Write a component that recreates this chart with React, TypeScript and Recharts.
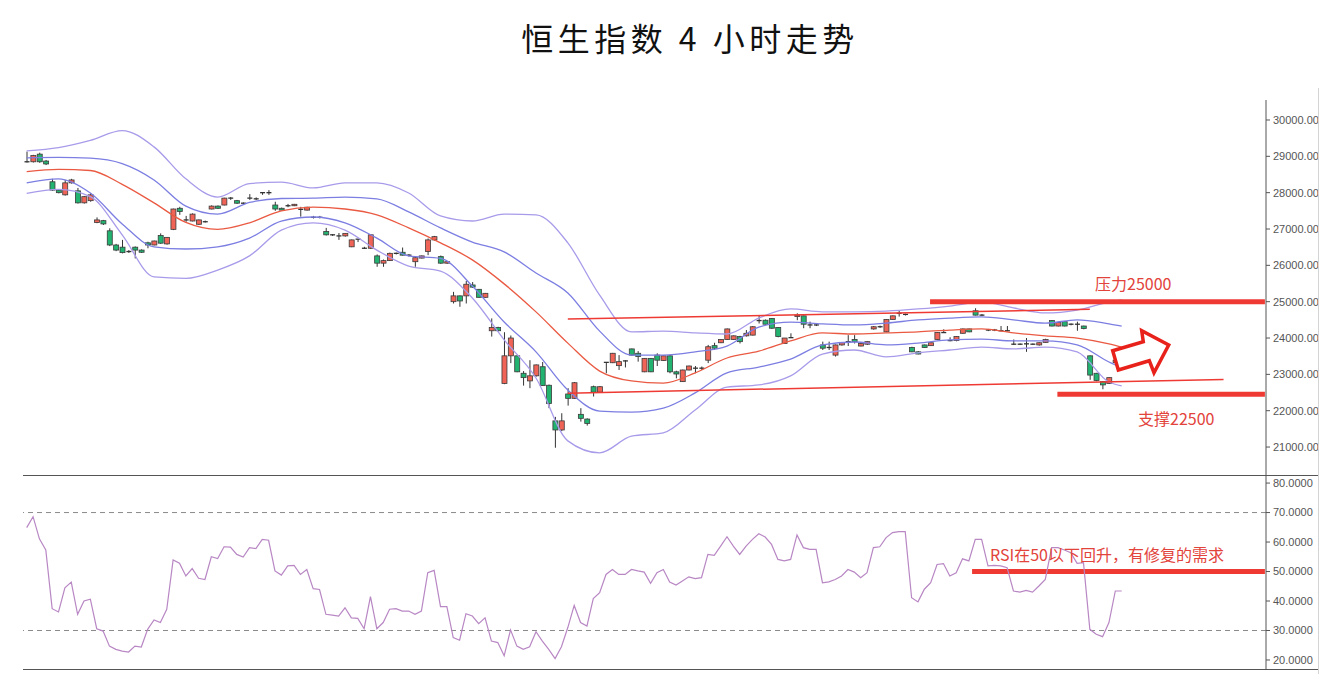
import { ComposedChart, Bar, Line, XAxis, YAxis, ReferenceLine } from "recharts";

// 4h candles, [open, high, low, close]
const candleOHLC: [number, number, number, number][] = [
  [28850, 29130, 28830, 28850], [28850, 29040, 28830, 29020], [29060, 29100, 28820, 28850], [28870, 28900, 28760, 28790],
  [28300, 28380, 28050, 28070], [28070, 28100, 27980, 28000], [27940, 28350, 27920, 28270], [28270, 28380, 28250, 28350],
  [28050, 28130, 27700, 27720], [27720, 27910, 27700, 27890], [27780, 27990, 27750, 27940], [27180, 27320, 27160, 27250],
  [27230, 27250, 27110, 27140], [26950, 27020, 26530, 26560], [26560, 26590, 26390, 26420], [26500, 26700, 26330, 26350],
  [26380, 26420, 26340, 26380], [26500, 26520, 26190, 26420], [26420, 26440, 26340, 26360], [26620, 26650, 26470, 26560],
  [26560, 26680, 26550, 26670], [26820, 26880, 26590, 26610], [26590, 26780, 26570, 26770], [26990, 27560, 26970, 27550],
  [27570, 27610, 27390, 27480], [27250, 27360, 27200, 27250], [27220, 27430, 27210, 27410], [27130, 27260, 27110, 27250],
  [27200, 27230, 27180, 27200], [27550, 27650, 27540, 27630], [27630, 27650, 27550, 27570], [27660, 27860, 27650, 27850],
  [27850, 27880, 27800, 27850], [27780, 27800, 27690, 27710], [27710, 27730, 27690, 27710], [27850, 27960, 27800, 27850],
  [27830, 27870, 27800, 27830], [28000, 28000, 27940, 28000], [28000, 28070, 27940, 28000], [27660, 27750, 27500, 27550],
  [27570, 27590, 27510, 27520], [27640, 27690, 27600, 27640], [27640, 27690, 27630, 27680], [27540, 27610, 27340, 27540],
  [27520, 27610, 27510, 27600], [27320, 27360, 27290, 27320], [27320, 27360, 27290, 27320], [26930, 27030, 26820, 26840],
  [26840, 26860, 26810, 26840], [26810, 26890, 26700, 26810], [26810, 26890, 26790, 26880], [26510, 26710, 26500, 26700],
  [26720, 26720, 26640, 26720], [26470, 26510, 26450, 26470], [26470, 26850, 26450, 26840], [26260, 26300, 25960, 26060],
  [26060, 26160, 25960, 26130], [26130, 26350, 26120, 26330], [26330, 26350, 26300, 26330], [26360, 26490, 26270, 26280],
  [26280, 26310, 26240, 26280], [26100, 26230, 25960, 26210], [26200, 26270, 26190, 26260], [26380, 26740, 26280, 26700],
  [26700, 26810, 26680, 26790], [26240, 26270, 26040, 26060], [26060, 26120, 26040, 26100], [25000, 25270, 24950, 25160],
  [25160, 25170, 24860, 25020], [25160, 25570, 24950, 25480], [25460, 25540, 25380, 25400], [25340, 25350, 25110, 25120],
  [25120, 25240, 25110, 25230], [24200, 24540, 24040, 24290], [24290, 24310, 24180, 24200], [22750, 24160, 22730, 23510],
  [23510, 24070, 23310, 24000], [23510, 23520, 23060, 23070], [23030, 23090, 22690, 22910], [22820, 23390, 22620, 22960],
  [22960, 23270, 22940, 23260], [23210, 23340, 22680, 22690], [22700, 22720, 22070, 22200], [21720, 21830, 20980, 21470],
  [21470, 21930, 21440, 21720], [22460, 22620, 22140, 22340], [22340, 22790, 22330, 22770], [21900, 22070, 21700, 21790],
  [21770, 21790, 21590, 21650], [22660, 22690, 22390, 22510], [22510, 22680, 22490, 22660], [23330, 23330, 23030, 23330],
  [23320, 23590, 23310, 23580], [23240, 23530, 23120, 23350], [23370, 23390, 23190, 23370], [23700, 23710, 23520, 23530],
  [23580, 23640, 23350, 23490], [23070, 23450, 23060, 23440], [23440, 23450, 23060, 23070], [23530, 23580, 23230, 23390],
  [23380, 23530, 23370, 23510], [23510, 23530, 23030, 23070], [23070, 23100, 22890, 23010], [22800, 23130, 22790, 23120],
  [23120, 23240, 23110, 23230], [23170, 23230, 23030, 23170], [23170, 23215, 23120, 23170], [23390, 23810, 23310, 23760],
  [23790, 23870, 23670, 23720], [23870, 23970, 23860, 23960], [23960, 24260, 23950, 24250], [23960, 24070, 23950, 24060],
  [24040, 24060, 23850, 23900], [24060, 24220, 24040, 24130], [24080, 24330, 24070, 24310], [24480, 24610, 24400, 24480],
  [24490, 24510, 24370, 24380], [24540, 24550, 24250, 24270], [24290, 24300, 24020, 24040], [23850, 24000, 23840, 24000],
  [24010, 24130, 24000, 24010], [24590, 24680, 24490, 24630], [24610, 24620, 24270, 24380], [24360, 24450, 24270, 24360],
  [24360, 24380, 24330, 24360], [23810, 23900, 23670, 23720], [23740, 23900, 23670, 23740], [23530, 23820, 23490, 23810],
  [23810, 23880, 23790, 23870], [23900, 24080, 23780, 23900], [23960, 24080, 23850, 23900], [23780, 23860, 23770, 23850],
  [23830, 23910, 23810, 23900], [24250, 24330, 24230, 24310], [24310, 24340, 24280, 24310], [24170, 24520, 24160, 24510],
  [24510, 24620, 24500, 24610], [24680, 24770, 24590, 24680], [24650, 24670, 24620, 24650], [23740, 23760, 23610, 23620],
  [23620, 23640, 23550, 23560], [23810, 23820, 23730, 23740], [23790, 23880, 23780, 23870], [23960, 24160, 23950, 24150],
  [24150, 24240, 24140, 24150], [23930, 24020, 23910, 23930], [23930, 24050, 23910, 24040], [24130, 24260, 24120, 24250],
  [24250, 24260, 24160, 24170], [24750, 24820, 24620, 24630], [24630, 24660, 24610, 24630], [24220, 24250, 24190, 24220],
  [24220, 24250, 24190, 24220], [24200, 24330, 24190, 24200], [24200, 24330, 24190, 24200], [23830, 23960, 23810, 23830],
  [23830, 23850, 23810, 23830], [23840, 24000, 23620, 23840], [23830, 23850, 23810, 23830], [23810, 23880, 23790, 23870],
  [23880, 23980, 23870, 23960], [24480, 24490, 24320, 24330], [24330, 24450, 24320, 24430], [24450, 24460, 24320, 24330],
  [24380, 24400, 24350, 24380], [24380, 24450, 24200, 24380], [24330, 24340, 24240, 24260], [23510, 23520, 22850, 22980],
  [23030, 23040, 22810, 22830], [22800, 22810, 22590, 22710], [22750, 22920, 22740, 22910], [23320, 23410, 23300, 23390],
  [23440, 23500, 23420, 23440],
];

// bollinger envelopes, read at these candle positions
const bandIndex = [0, 5, 10, 15, 20, 25, 30, 35, 40, 45, 50, 55, 60, 65, 70, 75, 80, 85, 90, 95, 100, 105, 110, 115, 120, 125, 130, 135, 140, 145, 150, 155, 160, 165, 170, 172];
const outerUpper = [29150, 29240, 29440, 29710, 29260, 28380, 27880, 28250, 28290, 28130, 28270, 28270, 27990, 27360, 27220, 27410, 27390, 26620, 25180, 24170, 24190, 24140, 24110, 24550, 24800, 24720, 24720, 24740, 24800, 24880, 24990, 24830, 24690, 24770, 24990, 25050];
const innerUpper = [28960, 28970, 28950, 28800, 28350, 27630, 27410, 27730, 27840, 27850, 27880, 27830, 27470, 27030, 26640, 26370, 25790, 25240, 24190, 23530, 23530, 23620, 23780, 24300, 24440, 24390, 24360, 24410, 24500, 24550, 24580, 24500, 24410, 24500, 24390, 24330];
const middle = [28580, 28640, 28610, 28230, 27720, 27180, 26990, 27170, 27500, 27600, 27550, 27390, 27030, 26620, 26150, 25490, 24720, 23860, 23090, 22820, 22760, 23040, 23450, 23640, 23920, 24140, 24110, 24140, 24170, 24220, 24250, 24140, 24060, 24000, 23840, 23750];
const innerLower = [28270, 28380, 27990, 27140, 26510, 26450, 26510, 26750, 27220, 27330, 27170, 26750, 26260, 26190, 25430, 24440, 23620, 22570, 21990, 21960, 22070, 22490, 23040, 23200, 23420, 23810, 23890, 23810, 23860, 23950, 23970, 23920, 23920, 23810, 23340, 23180];
const outerLower = [27980, 28090, 27890, 26840, 25680, 25640, 25870, 26260, 26970, 27170, 26970, 26420, 25980, 25840, 25100, 23950, 22900, 21170, 20840, 21300, 21390, 22020, 22650, 22710, 22960, 23560, 23670, 23480, 23590, 23670, 23750, 23700, 23750, 23620, 22790, 22680];

const rsiValues = [
  64.9, 68.6, 61.1, 57.3, 37.4, 36.3, 44.5, 46.4, 35.5, 40.0, 40.6, 30.6, 29.8, 24.7, 23.6, 23.0, 22.7, 24.7, 24.4, 30.4,
  33.6, 32.7, 37.2, 53.9, 52.8, 48.5, 51.0, 47.7, 47.3, 55.0, 54.4, 58.4, 58.3, 55.8, 54.9, 58.1, 57.8, 60.9, 60.6, 50.2,
  48.8, 51.9, 52.1, 49.0, 50.7, 44.2, 43.9, 35.5, 35.2, 34.9, 37.7, 34.3, 34.1, 30.6, 41.5, 30.6, 32.7, 37.2, 37.4, 36.6,
  36.6, 35.5, 36.6, 49.6, 50.4, 38.1, 38.1, 27.6, 26.7, 35.7, 34.9, 32.3, 34.3, 26.4, 25.9, 21.4, 30.2, 24.7, 23.6, 24.5,
  29.6, 26.4, 23.6, 20.5, 24.5, 31.0, 38.5, 32.7, 31.5, 40.8, 42.8,
  49.0, 50.7, 49.0, 49.0, 50.7, 50.2, 49.8, 46.0, 49.6, 50.7, 46.4, 45.4, 46.8, 48.2, 47.6, 47.9, 55.8, 55.5, 58.6, 61.8,
  58.6, 55.8, 58.6, 60.9, 62.8, 61.7, 59.2, 54.1, 53.6, 54.1, 62.4, 58.1, 57.5, 57.5, 46.2, 46.5, 47.3, 48.5, 50.7, 49.8,
  47.9, 49.6, 58.1, 58.4, 61.5, 63.2, 63.5, 63.5, 41.1, 39.7, 44.0, 46.2, 52.4, 52.7, 48.5, 49.6, 54.3, 53.6, 60.9, 60.9,
  51.9, 52.1, 51.9, 51.3, 43.4, 43.0, 43.6, 43.0, 45.1, 47.3, 58.1, 58.1, 57.3, 56.4, 52.8, 53.0, 30.4, 28.7, 27.9, 32.7,
  43.4, 43.4,
];

const priceTicks = [21000, 22000, 23000, 24000, 25000, 26000, 27000, 28000, 29000, 30000];
const rsiTicks = [20, 30, 40, 50, 60, 70, 80];

const resistance = 25000;
const support = 22450;
const upperTrend = [{ x: 85, y: 24520 }, { x: 167, y: 24790 }];
const lowerTrend = [{ x: 85, y: 22480 }, { x: 188, y: 22860 }];

const X_DOMAIN: [number, number] = [-0.58, 194.67];
const RED = "#ef6456";
const GREEN = "#22b371";
const LINE_RED = "#ee3a33";
const TEXT_RED = "#e2433b";

const candleData = candleOHLC.map(([o, h, l, c], i) => ({ i, o, h, l, c, range: [l, h] }));
const bandData = bandIndex.map((i, k) => ({
  i,
  ou: outerUpper[k],
  iu: innerUpper[k],
  mid: middle[k],
  il: innerLower[k],
  ol: outerLower[k],
}));
const rsiData = rsiValues.map((v, i) => ({ i, v }));

function Candle(props: any) {
  const { x, y, width, height, payload } = props;
  if (!payload) return null;
  const { o, h, l, c } = payload;
  const top = Math.min(y, y + height);
  const hh = Math.abs(height);
  const k = h > l ? hh / (h - l) : 0;
  const py = (v: number) => top + (h - v) * k;
  const cx = x + width / 2;
  const bodyTop = py(Math.min(h, Math.max(o, c)));
  const bodyBot = py(Math.max(l, Math.min(o, c)));
  const doji = o === c;
  return (
    <g>
      <line x1={cx} x2={cx} y1={top} y2={top + hh} stroke="#333" strokeWidth={1} />
      {doji ? (
        <line x1={x} x2={x + width} y1={bodyTop} y2={bodyTop} stroke="#333" strokeWidth={1.3} />
      ) : (
        <rect
          x={x}
          y={bodyTop}
          width={width}
          height={Math.max(1, bodyBot - bodyTop)}
          fill={c > o ? RED : GREEN}
          stroke="#3b3b3b"
          strokeWidth={0.8}
        />
      )}
    </g>
  );
}

const tickStyle = { fill: "#555", fontSize: 11, fontFamily: "'Liberation Sans', Arial, sans-serif" };
const cjk = "'Noto Sans CJK SC', 'Noto Sans', sans-serif";

export default function App() {
  return (
    <div style={{ position: "absolute", left: 0, top: 0, width: 1326, height: 674, background: "#fff", overflow: "hidden" }}>
      <div
        style={{
          position: "absolute", left: 0, top: 14, width: 1380, height: 46, lineHeight: "46px",
          textAlign: "center", fontFamily: cjk, fontSize: 32, letterSpacing: 4.5, color: "#111",
        }}
      >
        恒生指数 4 小时走势
      </div>

      {/* price panel */}
      <div style={{ position: "absolute", left: 0, top: 100, width: 1318, height: 376, overflow: "hidden" }}>
        <ComposedChart width={1318} height={376} data={candleData} margin={{ top: 0, right: 0, bottom: 0, left: 23 }}>
          <XAxis type="number" dataKey="i" domain={X_DOMAIN} hide allowDataOverflow />
          <YAxis
            orientation="right"
            width={52}
            domain={[20203, 30550]}
            allowDataOverflow
            ticks={priceTicks}
            interval={0}
            tickFormatter={(v: number) => v.toFixed(2)}
            tick={tickStyle}
            tickSize={4}
            tickMargin={3}
            axisLine={{ stroke: "#555" }}
            tickLine={{ stroke: "#555" }}
          />
          <Line data={bandData} dataKey="ou" type="monotone" stroke="#a99bea" strokeWidth={1.3} dot={false} isAnimationActive={false} />
          <Line data={bandData} dataKey="iu" type="monotone" stroke="#7c7ee2" strokeWidth={1.3} dot={false} isAnimationActive={false} />
          <Line data={bandData} dataKey="mid" type="monotone" stroke="#ea5a43" strokeWidth={1.3} dot={false} isAnimationActive={false} />
          <Line data={bandData} dataKey="il" type="monotone" stroke="#7c7ee2" strokeWidth={1.3} dot={false} isAnimationActive={false} />
          <Line data={bandData} dataKey="ol" type="monotone" stroke="#a99bea" strokeWidth={1.3} dot={false} isAnimationActive={false} />
          <ReferenceLine segment={upperTrend} stroke={LINE_RED} strokeWidth={1.5} />
          <ReferenceLine segment={lowerTrend} stroke={LINE_RED} strokeWidth={1.5} />
          <Bar dataKey="range" barSize={5} shape={<Candle />} isAnimationActive={false} />
          <ReferenceLine segment={[{ x: 141.9, y: resistance }, { x: 194.5, y: resistance }]} stroke={LINE_RED} strokeWidth={5} />
          <ReferenceLine segment={[{ x: 161.9, y: support }, { x: 194.5, y: support }]} stroke={LINE_RED} strokeWidth={5} />
        </ComposedChart>
      </div>

      {/* RSI panel */}
      <div style={{ position: "absolute", left: 0, top: 476, width: 1318, height: 194, overflow: "hidden" }}>
        <ComposedChart width={1318} height={194} data={rsiData} margin={{ top: 0, right: 0, bottom: 0, left: 23 }}>
          <XAxis type="number" dataKey="i" domain={X_DOMAIN} hide allowDataOverflow />
          <YAxis
            orientation="right"
            width={52}
            domain={[16.6, 82.4]}
            allowDataOverflow
            ticks={rsiTicks}
            interval={0}
            tickFormatter={(v: number) => v.toFixed(4)}
            tick={tickStyle}
            tickSize={4}
            tickMargin={3}
            axisLine={{ stroke: "#555" }}
            tickLine={{ stroke: "#555" }}
          />
          <ReferenceLine y={70} stroke="#8a8a8a" strokeDasharray="5 4" />
          <ReferenceLine y={30} stroke="#8a8a8a" strokeDasharray="5 4" />
          <ReferenceLine segment={[{ x: 148.5, y: 50 }, { x: 194.5, y: 50 }]} stroke={LINE_RED} strokeWidth={5} />
          <Line dataKey="v" type="linear" stroke="#b887c4" strokeWidth={1.2} dot={false} isAnimationActive={false} />
        </ComposedChart>
      </div>

      {/* panel frame */}
      <div style={{ position: "absolute", left: 23, top: 475, width: 1295, height: 1, background: "#555" }} />
      <div style={{ position: "absolute", left: 23, top: 669, width: 1295, height: 1, background: "#555" }} />
      <div style={{ position: "absolute", left: 1318, top: 88, width: 1, height: 586, background: "#d4d4d4" }} />

      {/* annotations */}
      <div style={{ position: "absolute", left: 1095, top: 272, fontFamily: cjk, fontSize: 16, lineHeight: "23px", color: TEXT_RED, whiteSpace: "nowrap" }}>
        压力25000
      </div>
      <div style={{ position: "absolute", left: 1138, top: 407, fontFamily: cjk, fontSize: 16, lineHeight: "23px", color: TEXT_RED, whiteSpace: "nowrap" }}>
        支撑22500
      </div>
      <div style={{ position: "absolute", left: 990, top: 543, fontFamily: cjk, fontSize: 16, lineHeight: "23px", color: TEXT_RED, whiteSpace: "nowrap" }}>
        RSI在50以下回升，有修复的需求
      </div>
      <svg width={1326} height={674} style={{ position: "absolute", left: 0, top: 0, pointerEvents: "none" }}>
        <path
          d="M1112.7,350.7 L1143.3,341.7 L1141.7,330.7 L1168.7,345 L1154,372.7 L1149.3,360.7 L1118.3,370 Z"
          fill="#fff"
          stroke="#e8221b"
          strokeWidth={3.5}
          strokeLinejoin="miter"
        />
      </svg>
    </div>
  );
}
